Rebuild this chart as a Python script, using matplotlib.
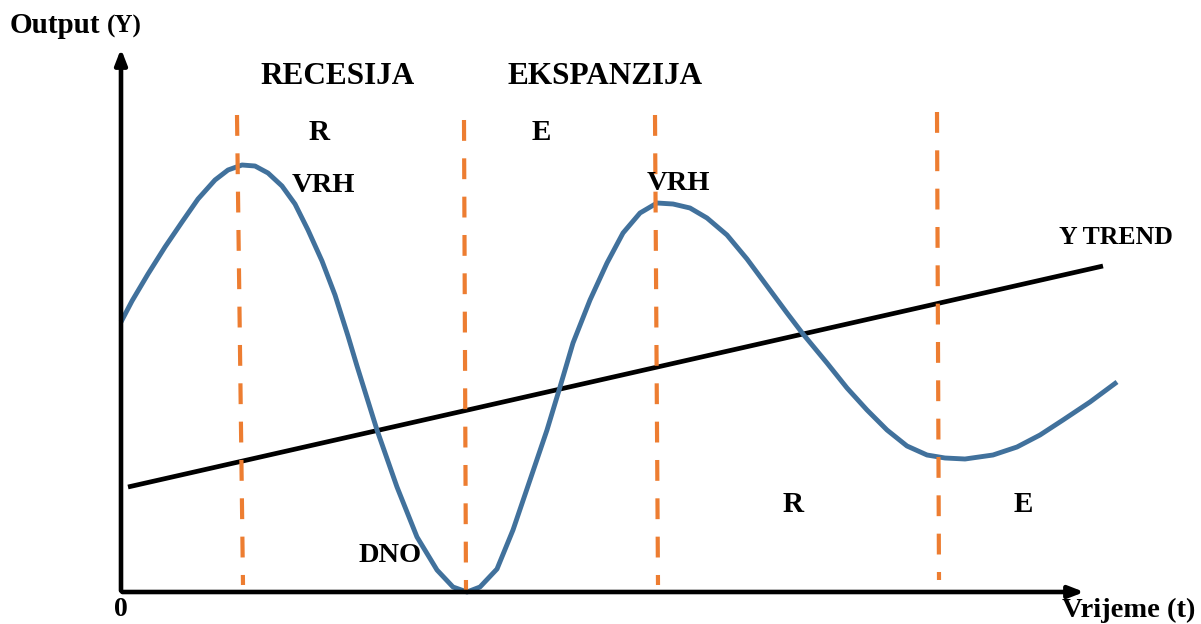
import matplotlib.pyplot as plt

# business cycle curve (t, Y), origin at the axes corner
cycle_t = [0, 11, 27, 44, 61, 77, 94, 107, 121, 134, 147, 161, 174, 187, 201, 214, 227, 236,
           256, 276, 296, 316, 332, 346, 359, 376, 392, 409, 426, 439, 452, 469, 486, 502,
           519, 536, 552, 569, 586, 606, 626, 646, 666, 682, 706, 726, 746, 766, 786, 806,
           824, 844, 872, 896, 919, 942, 969, 996]
cycle_y = [270, 291, 318, 345, 370, 393, 412, 422, 427, 426, 419, 406, 388, 362, 331, 297, 256, 226,
           162, 105, 55, 22, 5, 0, 5, 23, 62, 112, 162, 205, 249, 292, 329, 359,
           379, 389, 388, 384, 374, 357, 333, 306, 279, 258, 229, 204, 182, 162, 146, 137,
           134, 133, 137, 145, 157, 172, 190, 210]

trend_t = [7, 982]
trend_y = [105, 326]

# phase boundaries (x at top, x at bottom, top, bottom)
phase_x_top = [116, 343, 534, 816]
phase_x_bot = [122, 345, 537, 818]
phase_y_top = [477, 472, 477, 480]
phase_y_bot = [7, 2, 7, 12]

labels = [
    ("RECESIJA", 217, 515, 22.5),
    ("EKSPANZIJA", 484, 515, 22.5),
    ("R", 198, 460, 21),
    ("E", 420, 460, 21),
    ("VRH", 202, 407, 20.5),
    ("VRH", 557, 408, 20.5),
    ("Y TREND", 995, 355, 18.5),
    ("DNO", 269, 36, 20.5),
    ("R", 672, 87, 21),
    ("E", 902, 87, 21),
]

plt.rcParams['font.family'] = ['Liberation Serif', 'DejaVu Serif']
plt.rcParams['font.weight'] = 'bold'

fig = plt.figure(figsize=(12.01, 6.24), dpi=100)
ax = fig.add_axes([0, 0, 1, 1])
ax.set_xlim(-121, 1080)
ax.set_ylim(-32, 592)
ax.axis('off')

for xt, xb, yt, yb in zip(phase_x_top, phase_x_bot, phase_y_top, phase_y_bot):
    ax.plot([xt, xb], [yt, yb], color='#ED7D31', lw=3, dashes=(5, 4.2), zorder=3)

ax.plot(trend_t, trend_y, color='black', lw=3.4, solid_capstyle='butt', zorder=2)
ax.plot(cycle_t, cycle_y, color='#41719C', lw=3.5, solid_joinstyle='round',
        solid_capstyle='butt', zorder=2)

# axes with arrows
ax.annotate('', xy=(0, 546), xytext=(0, -1.5),
            arrowprops=dict(arrowstyle='-|>,head_length=0.9,head_width=0.35', color='black', lw=3.3))
ax.annotate('', xy=(966, 0), xytext=(-1.5, 0),
            arrowprops=dict(arrowstyle='-|>,head_length=0.9,head_width=0.35', color='black', lw=3.3))

for txt, x, y, fs in labels:
    ax.text(x, y, txt, fontsize=fs, ha='center', va='center', fontweight='bold')

ax.text(-111, 559, 'Output', fontsize=21, ha='left', va='baseline', fontweight='bold')
ax.text(-14, 559, '(Y)', fontsize=18, ha='left', va='baseline', fontweight='bold')
ax.text(0, -18, '0', fontsize=20, ha='center', va='center', fontweight='bold')
ax.text(1074, -18, 'Vrijeme (t)', fontsize=20.5, ha='right', va='center', fontweight='bold')

fig.savefig('out.png', dpi=100)
